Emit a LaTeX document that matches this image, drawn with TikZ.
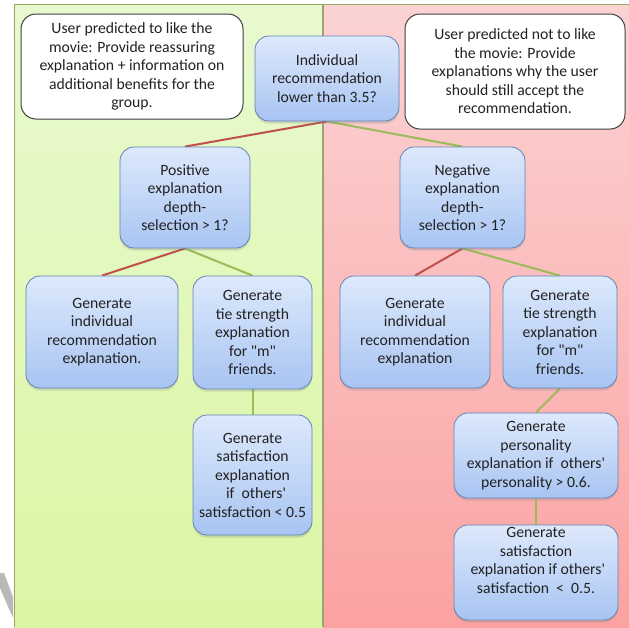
\documentclass[tikz,border=0pt]{standalone}
\usepackage{fontspec}
\setmainfont{Carlito}[Ligatures=TeXOff]
\usetikzlibrary{shadows}
\definecolor{greenTop}{HTML}{E8F9CF}
\definecolor{greenBot}{HTML}{DAF6A4}
\definecolor{pinkTop}{HTML}{FBD3D3}
\definecolor{pinkBot}{HTML}{FBA2A2}
\definecolor{blueTop}{HTML}{DDE9FC}
\definecolor{blueBot}{HTML}{A8C4F2}
\definecolor{blueBd}{HTML}{6483B4}
\definecolor{txt}{HTML}{222222}
\definecolor{redLine}{HTML}{C0504D}
\definecolor{greenLine}{HTML}{9BBB59}
\definecolor{divider}{HTML}{9FA373}
\pgfdeclarelayer{bg}
\pgfdeclarelayer{lines}
\pgfsetlayers{bg,lines,main}
\tikzset{
  bluebox/.style={rounded corners=14pt, draw=blueBd, line width=0.8pt,
    top color=blueTop, bottom color=blueBot, align=center, text=txt,
    inner sep=0pt, font=\fontsize{15.7}{18.5}\selectfont,
    drop shadow={opacity=0.25, shadow xshift=0pt, shadow yshift=-2.5pt}},
  whitebox/.style={rounded corners=15pt, draw=black!75, line width=1pt,
    fill=white, align=center, text=txt, inner sep=0pt,
    font=\fontsize{15.7}{18.5}\selectfont},
  redc/.style={draw=redLine, line width=2pt},
  greenc/.style={draw=greenLine, line width=2pt}
}
\begin{document}
\begin{tikzpicture}[x=1pt,y=-1pt]
\useasboundingbox (0,0) rectangle (629,627);
\begin{pgfonlayer}{bg}
  \fill[top color=greenTop, bottom color=greenBot] (14,4) rectangle (323,627);
  \fill[top color=pinkTop, bottom color=pinkBot] (323,4) rectangle (629,627);
  \draw[draw=greenLine!70!gray, line width=0.8pt] (14,627) -- (14,4) -- (629,4);
  \draw[divider, line width=1.3pt] (323,4) -- (323,627);
  \fill[gray!55] (0,573) -- (4,573) -- (13,597) -- (13,618) -- (0,588) -- cycle;
\end{pgfonlayer}

\node[whitebox, minimum width=222pt, minimum height=105pt] (wl) at (132,66.5)
  {User predicted to like the\\movie: Provide reassuring\\explanation + information on\\additional benefits for the\\group.};
\node[whitebox, minimum width=220pt, minimum height=115pt] (wr) at (515,71.5)
  {User predicted not to like\\the movie: Provide\\explanations why the user\\should still accept the\\recommendation.};

\node[bluebox, minimum width=144pt, minimum height=85pt] (top) at (327,78.5)
  {Individual\\recommendation\\lower than 3.5?};
\node[bluebox, minimum width=130pt, minimum height=101pt] (pos) at (185,197.5)
  {Positive\\explanation\\depth-\\selection > 1?};
\node[bluebox, minimum width=125pt, minimum height=101pt] (neg) at (462.5,197.5)
  {Negative\\explanation\\depth-\\selection > 1?};
\node[bluebox, minimum width=152pt, minimum height=112pt] (gil) at (102,332)
  {Generate\\individual\\recommendation\\explanation.};
\node[bluebox, minimum width=119pt, minimum height=113pt] (tsl) at (252.5,332.5)
  {Generate\\tie strength\\explanation\\for "m"\\friends.};
\node[bluebox, minimum width=150pt, minimum height=112pt] (gir) at (415,332)
  {Generate\\individual\\recommendation\\explanation};
\node[bluebox, minimum width=114pt, minimum height=112pt] (tsr) at (560,332)
  {Generate\\tie strength\\explanation\\for "m"\\friends.};
\node[bluebox, minimum width=119pt, minimum height=120pt] (satl) at (252.5,475)
  {Generate\\satisfaction\\explanation\\\ \ if\ \ others'\\satisfaction < 0.5};
\node[bluebox, minimum width=164pt, minimum height=85pt] (pers) at (536,455.5)
  {Generate\\personality\\explanation if\ \ others'\\personality > 0.6.};
\node[bluebox, minimum width=164pt, minimum height=95pt] (satr) at (536,572.5)
  {Generate\\satisfaction\\\ explanation if others'\\satisfaction\ \ <\ \ 0.5.\\[6pt]};

\begin{pgfonlayer}{lines}
  \draw[redc] (top.south) -- (pos.north);
  \draw[greenc] (top.south) -- (neg.north);
  \draw[redc] (pos.south) -- (gil.north);
  \draw[greenc] (pos.south) -- (tsl.north);
  \draw[redc] (neg.south) -- (gir.north);
  \draw[greenc] (neg.south) -- (tsr.north);
  \draw[greenc] (tsl.south) -- (satl.north);
  \draw[greenc] (tsr.south) -- (pers.north);
  \draw[greenc] (pers.south) -- (satr.north);
\end{pgfonlayer}
\end{tikzpicture}
\end{document}
